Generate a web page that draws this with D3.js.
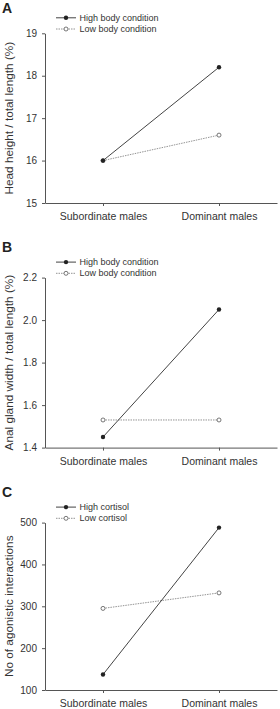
<!DOCTYPE html>
<html>
<head>
<meta charset="utf-8">
<script src="https://cdn.jsdelivr.net/npm/d3@7"></script>
<style>
  body { margin: 0; background: #fff; }
  svg { display: block; font-family: "Liberation Sans", Arial, sans-serif; }
</style>
</head>
<body>
<div id="chart"></div>
<script>
// data
const categories = ["Subordinate males", "Dominant males"];

const headHigh = [16.0, 18.2];
const headLow = [16.0, 16.6];
const headTicks = [15, 16, 17, 18, 19];

const glandHigh = [1.45, 2.05];
const glandLow = [1.53, 1.53];
const glandTicks = [1.4, 1.6, 1.8, 2.0, 2.2];

const agonHigh = [137, 488];
const agonLow = [295, 332];
const agonTicks = [100, 200, 300, 400, 500];

const bodyLegend = ["High body condition", "Low body condition"];
const cortisolLegend = ["High cortisol", "Low cortisol"];

const width = 280, height = 709;
const left = 45, right = 277;

const svg = d3.select('#chart')
    .append('svg')
    .attr('width', width)
    .attr('height', height);

const axisColor = '#555';
const textColor = '#333';

function drawPanel(opts) {
    const g = svg.append('g');

    const x = d3.scalePoint()
        .domain(categories)
        .range([left, right])
        .padding(0.5);

    const y = d3.scaleLinear()
        .domain(d3.extent(opts.ticks))
        .range([opts.bottom, opts.top]);

    // panel letter
    g.append('text')
        .attr('x', 2)
        .attr('y', opts.letterY)
        .style('font-size', '14px')
        .style('font-weight', 'bold')
        .attr('fill', '#222')
        .text(opts.letter);

    // y axis
    const yAxis = g.append('g')
        .attr('transform', `translate(${left},0)`)
        .call(d3.axisLeft(y)
            .tickValues(opts.ticks)
            .tickFormat(opts.format)
            .tickSize(3)
            .tickSizeOuter(0)
            .tickPadding(5));

    // x axis
    const xAxis = g.append('g')
        .attr('transform', `translate(0,${opts.bottom})`)
        .call(d3.axisBottom(x)
            .tickSize(3)
            .tickSizeOuter(0)
            .tickPadding(7));

    [yAxis, xAxis].forEach(a => {
        a.select('.domain').attr('stroke', axisColor);
        a.selectAll('.tick line').attr('stroke', axisColor);
        a.selectAll('.tick text')
            .attr('fill', textColor)
            .style('font-family', '"Liberation Sans", Arial, sans-serif');
    });
    yAxis.selectAll('.tick text').style('font-size', '10px');
    xAxis.selectAll('.tick text').style('font-size', '10.5px');

    // y title
    g.append('text')
        .attr('transform', `translate(13,${(opts.top + opts.bottom) / 2}) rotate(-90)`)
        .attr('text-anchor', 'middle')
        .style('font-size', '11.8px')
        .attr('fill', textColor)
        .text(opts.title);

    const line = d3.line()
        .x((d, i) => x(categories[i]))
        .y(d => y(d));

    // low series (dotted, open markers)
    g.append('path')
        .datum(opts.low)
        .attr('d', line)
        .attr('fill', 'none')
        .attr('stroke', '#888')
        .attr('stroke-width', 0.9)
        .attr('stroke-dasharray', '1.5,1');

    // high series (solid, filled markers)
    g.append('path')
        .datum(opts.high)
        .attr('d', line)
        .attr('fill', 'none')
        .attr('stroke', '#444')
        .attr('stroke-width', 1);

    g.selectAll('.low-pt')
        .data(opts.low)
        .enter()
        .append('circle')
        .attr('cx', (d, i) => x(categories[i]))
        .attr('cy', d => y(d))
        .attr('r', 2)
        .attr('fill', '#fff')
        .attr('stroke', '#555')
        .attr('stroke-width', 0.8);

    g.selectAll('.high-pt')
        .data(opts.high)
        .enter()
        .append('circle')
        .attr('cx', (d, i) => x(categories[i]))
        .attr('cy', d => y(d))
        .attr('r', 2.2)
        .attr('fill', '#222');

    // legend
    const legend = g.append('g');
    opts.legend.forEach((label, i) => {
        const ly = opts.top - 15.5 + i * 11.2;
        legend.append('line')
            .attr('x1', 56).attr('x2', 76)
            .attr('y1', ly).attr('y2', ly)
            .attr('stroke', i === 0 ? '#444' : '#888')
            .attr('stroke-width', i === 0 ? 1 : 0.9)
            .attr('stroke-dasharray', i === 0 ? null : '1.5,1');
        legend.append('circle')
            .attr('cx', 66).attr('cy', ly)
            .attr('r', i === 0 ? 2.2 : 2)
            .attr('fill', i === 0 ? '#222' : '#fff')
            .attr('stroke', i === 0 ? null : '#555')
            .attr('stroke-width', 0.8);
        legend.append('text')
            .attr('x', 79.5)
            .attr('y', ly)
            .attr('dy', '0.35em')
            .style('font-size', '9px')
            .attr('fill', textColor)
            .text(label);
    });
}

drawPanel({
    letter: 'A', letterY: 13, top: 33.3, bottom: 203,
    ticks: headTicks, format: d3.format('d'),
    title: 'Head height / total length (%)',
    high: headHigh, low: headLow, legend: bodyLegend
});

drawPanel({
    letter: 'B', letterY: 252, top: 277.6, bottom: 447.6,
    ticks: glandTicks, format: d3.format('.1f'),
    title: 'Anal gland width / total length (%)',
    high: glandHigh, low: glandLow, legend: bodyLegend
});

drawPanel({
    letter: 'C', letterY: 497, top: 522.6, bottom: 690,
    ticks: agonTicks, format: d3.format('d'),
    title: 'No of agonistic interactions',
    high: agonHigh, low: agonLow, legend: cortisolLegend
});
</script>
</body>
</html>
